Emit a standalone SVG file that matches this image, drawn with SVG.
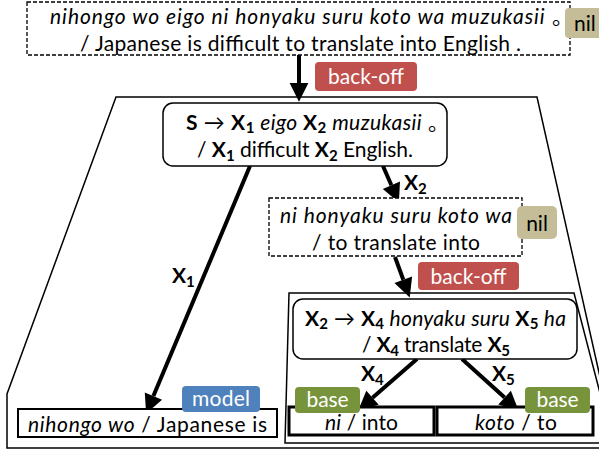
<svg xmlns="http://www.w3.org/2000/svg" width="599" height="452" viewBox="0 0 599 452">
<style>
text{font-family:Lato,"Liberation Sans","Noto Sans CJK JP",sans-serif;font-size:21px;fill:#000}
.i{font-style:italic}
.b{font-weight:bold}
.s{font-size:15px;font-weight:bold}
.bt{fill:#fff;text-anchor:middle}
.frame{fill:none;stroke:#000;stroke-width:1.5}
.dash{fill:#fff;stroke:#000;stroke-width:1.3;stroke-dasharray:4 2}
.rule{fill:#fff;stroke:#000;stroke-width:1.5}
.leaf{fill:#fff;stroke:#000;stroke-width:2}
.leafb{fill:#fff;stroke:#000;stroke-width:3}
.arr{fill:none;stroke:#000;stroke-width:4}
.red{fill:#C0504D}.tan{fill:#C4BD97}.blue{fill:#4F81BD}.green{fill:#77933C}
</style>
<defs>
<marker id="ah" markerUnits="userSpaceOnUse" markerWidth="20" markerHeight="20" refX="0" refY="0" viewBox="0 -8 16 16" orient="auto" overflow="visible">
<path d="M0,-7.5 L15,0 L0,7.5 z" fill="#000"/>
</marker>
</defs>
<g id="frames">
<polygon class="frame" points="116,97 537,97 616,448 7,448 7,394"/>
<polygon class="frame" points="289,293 574,293 613,443 285,443"/>
</g>
<g id="connectors">
<line class="arr" x1="299" y1="55" x2="299" y2="83" marker-end="url(#ah)"/>
<line class="arr" x1="250" y1="166" x2="153.4" y2="396.1" marker-end="url(#ah)"/>
<line class="arr" x1="383" y1="166" x2="391.4" y2="185.2" marker-end="url(#ah)"/>
<line class="arr" x1="395" y1="257" x2="403.3" y2="279.8" marker-end="url(#ah)"/>
<line class="arr" x1="417" y1="359" x2="372.5" y2="397.8" marker-end="url(#ah)"/>
<line class="arr" x1="462" y1="359" x2="504.6" y2="397.6" marker-end="url(#ah)"/>
<text x="172" y="283" class="b">X<tspan class="s" dy="4">1</tspan></text>
<text x="404" y="190" class="b">X<tspan class="s" dy="4">2</tspan></text>
<text x="361" y="381" class="b">X<tspan class="s" dy="4">4</tspan></text>
<text x="492" y="381" class="b">X<tspan class="s" dy="4">5</tspan></text>
</g>
<g id="top">
<rect class="dash" x="27" y="2" width="543" height="53"/>
<text x="50" y="24" textLength="523"><tspan class="i">nihongo wo eigo ni honyaku suru koto wa muzukasii</tspan> 。</text>
<text x="80" y="51" textLength="441">/ Japanese is difficult to translate into English .</text>
</g>
<g id="nil1">
<rect class="tan" x="565" y="8" width="42" height="30" rx="4"/>
<text x="574" y="31">nil</text>
</g>
<g id="backoff1">
<rect class="red" x="315" y="62" width="102" height="29" rx="4"/>
<text class="bt" x="366" y="84" textLength="76">back-off</text>
</g>
<g id="ruleS">
<rect class="rule" x="163" y="103" width="284" height="63" rx="10"/>
<text x="186" y="130" textLength="263"><tspan class="b">S</tspan> → <tspan class="b">X</tspan><tspan class="s" dy="3">1</tspan><tspan class="i" dy="-3"> eigo </tspan><tspan class="b">X</tspan><tspan class="s" dy="3">2</tspan><tspan class="i" dy="-3"> muzukasii</tspan> 。</text>
<text x="197" y="157" textLength="216">/ <tspan class="b">X</tspan><tspan class="s" dy="4">1</tspan><tspan dy="-4"> difficult </tspan><tspan class="b">X</tspan><tspan class="s" dy="4">2</tspan><tspan dy="-4"> English.</tspan></text>
</g>
<g id="phrase2">
<rect class="dash" x="269" y="198" width="253" height="58"/>
<text x="280" y="223" class="i" textLength="232">ni honyaku suru koto wa</text>
<text x="312" y="250" textLength="168">/ to translate into</text>
</g>
<g id="nil2">
<rect class="tan" x="517" y="206" width="40" height="33" rx="5"/>
<text x="537" y="231" text-anchor="middle">nil</text>
</g>
<g id="backoff2">
<rect class="red" x="418" y="262" width="101" height="28" rx="4"/>
<text class="bt" x="468.5" y="284" textLength="76">back-off</text>
</g>
<g id="ruleX2">
<rect class="rule" x="293" y="299" width="284" height="60" rx="10"/>
<text x="305" y="326" textLength="261"><tspan class="b">X</tspan><tspan class="s" dy="3">2</tspan><tspan dy="-3"> → </tspan><tspan class="b">X</tspan><tspan class="s" dy="3">4</tspan><tspan class="i" dy="-3"> honyaku suru </tspan><tspan class="b">X</tspan><tspan class="s" dy="3">5</tspan><tspan class="i" dy="-3"> ha</tspan></text>
<text x="362" y="352" textLength="148">/ <tspan class="b">X</tspan><tspan class="s" dy="4">4</tspan><tspan dy="-4"> translate </tspan><tspan class="b">X</tspan><tspan class="s" dy="4">5</tspan></text>
</g>
<g id="leafX1">
<rect class="leaf" x="18" y="409" width="259" height="28"/>
<text x="28" y="432" textLength="239"><tspan class="i">nihongo wo</tspan> / Japanese is</text>
</g>
<g id="model">
<rect class="blue" x="182" y="386" width="78" height="26" rx="4"/>
<text class="bt" x="221" y="406" textLength="58">model</text>
</g>
<g id="leafX4">
<rect class="leafb" x="289" y="407" width="145" height="28"/>
<text x="325" y="430" textLength="73"><tspan class="i">ni</tspan> / into</text>
</g>
<g id="base1">
<rect class="green" x="295" y="387" width="65" height="26" rx="4"/>
<text class="bt" x="327.5" y="407" textLength="42">base</text>
</g>
<g id="leafX5">
<rect class="leafb" x="437" y="407" width="156" height="28"/>
<text x="475" y="430" textLength="82"><tspan class="i">koto</tspan> / to</text>
</g>
<g id="base2">
<rect class="green" x="525" y="387" width="65" height="26" rx="4"/>
<text class="bt" x="557.5" y="407" textLength="42">base</text>
</g>
</svg>
